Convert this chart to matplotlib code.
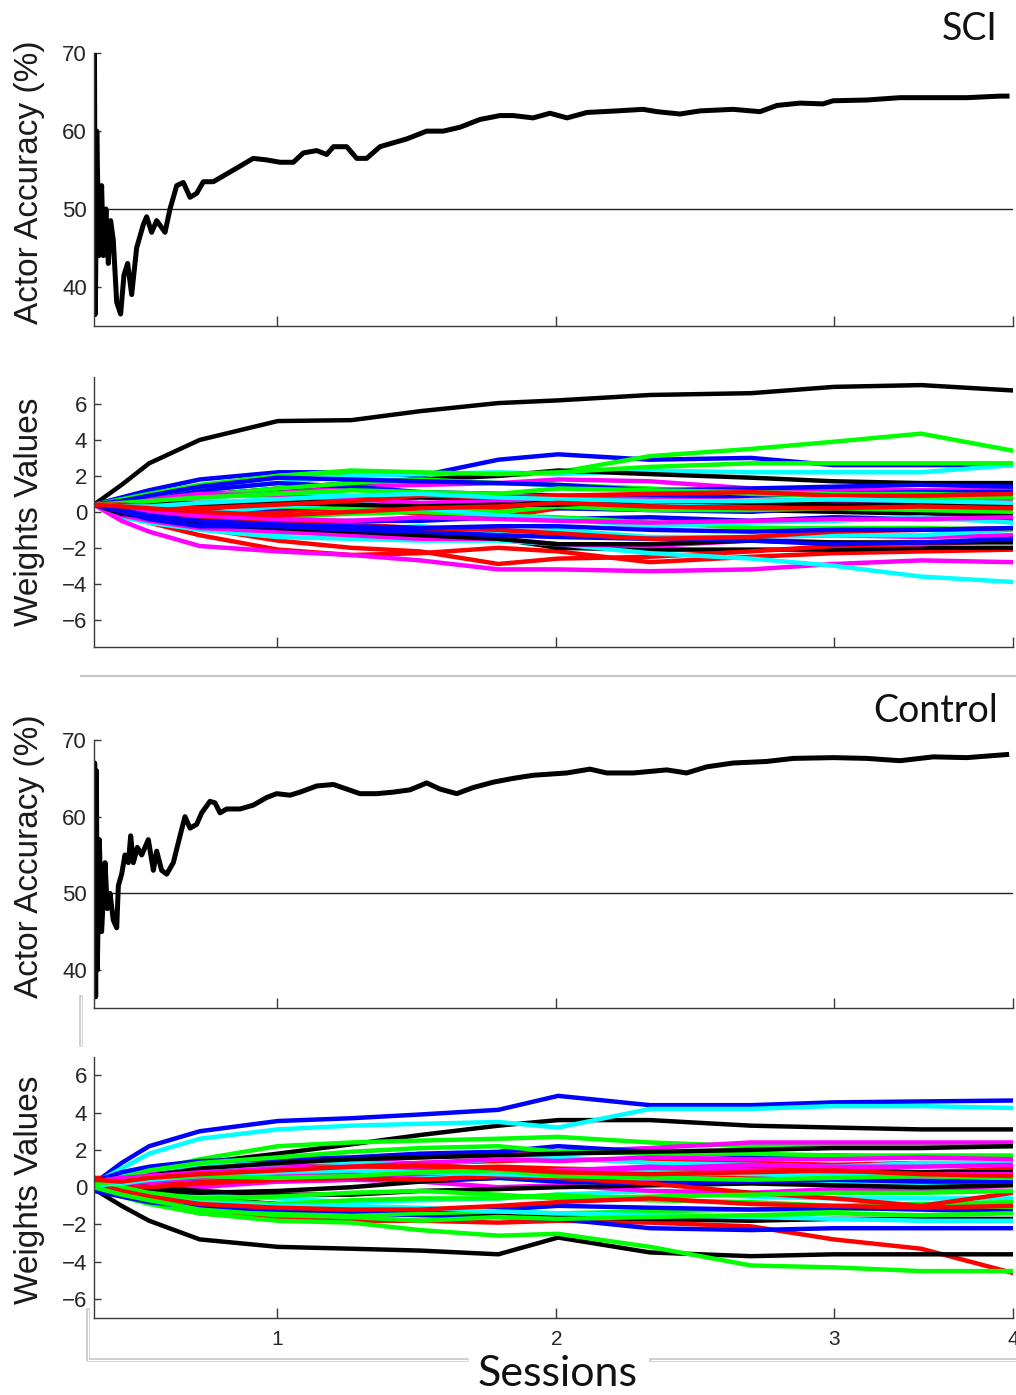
import matplotlib.pyplot as plt
from matplotlib.lines import Line2D

# x axis is trial number; session boundaries are marked with ticks
session_ends = [199, 503, 805, 1000]
session_labels = ['1', '2', '3', '4']

# actor accuracy (%) over trials
sci_acc_t = [0, 0.5, 1.5, 3, 5.4, 8.3, 10.2, 13, 15.6, 18.1, 21, 24.7, 29, 32.6, 36.6, 41,
             46.4, 53.7, 57.3, 62.7, 68.2, 77.3, 82.7, 90, 97.2, 104.5, 111.7, 119, 129.8,
             144.4, 158.9, 173.3, 187.9, 202.4, 216.9, 227.8, 242.3, 253.2, 260.5, 275,
             285.9, 296.7, 311.2, 325.7, 340.3, 362, 380, 398.3, 420, 441.8, 456.3, 477.7,
             496.2, 514.7, 536.5, 569.1, 597.4, 612.6, 637.6, 659.4, 695.3, 724.7, 743.2,
             768.2, 793.3, 804.1, 841.1, 877, 913, 950, 985.9, 993.5]
sci_acc = [36.5, 70, 36.5, 60, 44, 53, 44, 50, 43, 48.5, 46, 38, 36.5, 41.5, 43, 39,
           45, 48, 49, 47, 48.5, 47, 50, 53, 53.4, 51.5, 52, 53.5, 53.5,
           54.5, 55.5, 56.5, 56.3, 56, 56, 57.2, 57.5, 57, 58, 58,
           56.5, 56.5, 58, 58.5, 59, 60, 60, 60.5, 61.5, 62, 62, 61.7,
           62.3, 61.7, 62.4, 62.6, 62.8, 62.5, 62.2, 62.6, 62.8, 62.5, 63.3,
           63.6, 63.5, 63.9, 64, 64.3, 64.3, 64.3, 64.5, 64.5]

ctl_acc_t = [0, 0.7, 1.8, 2.6, 3.6, 5.8, 8.3, 12, 14.5, 17.4, 21, 24.7, 26.5, 30.1, 33.7,
             37.4, 39.9, 42.8, 47.2, 51.9, 59.1, 64.6, 68.2, 73.6, 79.1, 86.3, 93.6, 99,
             104.5, 111.7, 117.2, 126.2, 131.7, 137.1, 144.4, 158.9, 173.3, 187.9, 198.8,
             213.3, 224.2, 242.3, 260.5, 275, 289.4, 307.6, 325.7, 343.9, 362, 376.5,
             394.7, 412.7, 434.5, 456.3, 478, 514.4, 539.7, 557.9, 586.8, 623.2, 644.9,
             666.7, 695.6, 732, 760.9, 804.5, 840.8, 877, 913.3, 949.6, 993.1]
ctl_acc = [37, 67, 36.5, 66, 40, 57, 45, 54, 48, 50, 46.5, 45.5, 51, 52.5, 55,
           54, 57.5, 54, 56, 55, 57, 53, 55.5, 53, 52.5, 54, 57.5, 60,
           58.5, 59, 60.5, 62, 61.8, 60.5, 61, 61, 61.5, 62.5, 63,
           62.8, 63.2, 64, 64.2, 63.6, 63, 63, 63.2, 63.5, 64.4, 63.6,
           63, 63.8, 64.5, 65.0, 65.4, 65.7, 66.2, 65.7, 65.7, 66.1, 65.7,
           66.5, 67, 67.2, 67.6, 67.7, 67.6, 67.3, 67.8, 67.7, 68.1]

# actor weights, sampled at these trials
trials = [0, 30, 60, 115, 200, 280, 355, 440, 505, 605, 715, 805, 900, 1000]

sci_k = [
    [0.4, 1.5, 2.7, 4.0, 5.05, 5.1, 5.6, 6.05, 6.2, 6.5, 6.6, 6.95, 7.05, 6.75],
    [0.4, 0.5, 0.7, 0.9, 1.3, 1.6, 1.8, 2.0, 2.3, 2.1, 1.9, 1.7, 1.6, 1.6],
    [0.4, 0.5, 0.5, 0.5, 0.6, 0.7, 0.8, 0.7, 0.5, 0.3, 0.1, 0.0, -0.1, -0.1],
    [0.4, 0.0, -0.3, -0.5, -0.7, -0.8, -1.0, -1.5, -2.0, -2.1, -2.1, -2.1, -2.0, -2.0],
    [0.4, -0.1, -0.3, -0.7, -0.9, -1.1, -1.3, -1.5, -1.8, -1.8, -1.6, -1.7, -1.7, -1.7],
    [0.4, 0.3, 0.3, 0.4, 0.5, 0.4, 0.3, 0.4, 0.4, 0.6, 0.5, 0.4, 0.4, 0.3],
]
sci_b = [
    [0.4, 0.8, 1.2, 1.8, 2.2, 2.2, 2.0, 2.9, 3.2, 2.9, 3.0, 2.6, 2.6, 2.6],
    [0.4, 0.6, 0.8, 1.2, 1.6, 1.4, 1.1, 1.0, 0.9, 0.8, 0.9, 1.0, 1.1, 1.1],
    [0.4, 0.3, 0.2, 0.1, 0.2, 0.3, 0.2, 0.4, 0.2, 0.1, 0.0, 0.3, 0.3, 0.3],
    [0.4, 0.0, -0.3, -0.6, -0.6, -0.5, -0.5, -0.3, -0.4, -0.3, -0.5, -0.3, -0.4, -0.4],
    [0.4, 0.0, -0.4, -0.8, -0.8, -1.0, -1.1, -1.3, -1.4, -1.5, -1.6, -1.8, -1.7, -1.5],
    [0.4, 0.6, 0.9, 1.4, 1.9, 1.8, 1.7, 1.6, 1.5, 1.2, 1.3, 1.4, 1.5, 1.4],
    [0.4, 0.1, -0.2, -0.5, -0.7, -0.8, -0.9, -0.8, -0.8, -1.0, -1.1, -1.0, -1.0, -0.9],
]
sci_g = [
    [0.4, 0.7, 1.0, 1.5, 2.0, 2.2, 2.1, 2.0, 2.2, 3.1, 3.5, 3.9, 4.35, 3.4],
    [0.4, 0.6, 0.9, 1.4, 2.0, 2.3, 2.2, 2.1, 2.2, 2.5, 2.7, 2.7, 2.7, 2.7],
    [0.4, 0.5, 0.6, 0.9, 1.3, 1.6, 1.8, 1.6, 1.5, 1.3, 1.0, 0.9, 0.8, 0.8],
    [0.4, 0.1, -0.2, -0.4, -0.3, -0.1, 0.0, -0.2, -0.3, -0.6, -0.9, -0.9, -0.9, -1.0],
    [0.4, 0.3, 0.3, 0.4, 0.3, 0.2, 0.1, 0.0, 0.3, 0.1, 0.1, 0.2, 0.1, 0.0],
    [0.4, 0.5, 0.6, 0.8, 1.0, 1.2, 1.1, 1.0, 1.3, 1.2, 1.1, 1.0, 1.0, 0.9],
]
sci_r = [
    [0.4, 0.2, 0.0, -0.3, 0.0, 0.3, 0.3, 0.1, 0.6, 0.7, 0.6, 0.7, 0.6, 0.6],
    [0.4, 0.1, -0.1, -0.2, 0.1, 0.2, -0.1, -0.3, 0.2, 0.4, 0.3, 0.1, 0.0, -0.2],
    [0.4, -0.2, -0.6, -1.3, -2.1, -2.4, -2.3, -2.0, -2.2, -2.8, -2.5, -2.3, -2.2, -2.1],
    [0.4, -0.1, -0.4, -0.9, -1.6, -2.0, -2.2, -2.9, -2.6, -2.5, -2.2, -1.9, -1.8, -1.6],
    [0.4, 0.1, -0.1, -0.4, -0.6, -0.7, -0.9, -1.0, -1.2, -1.5, -1.4, -1.1, -1.0, -0.9],
    [0.4, 0.4, 0.3, 0.2, 0.4, 0.6, 0.9, 0.8, 0.9, 1.0, 1.1, 0.9, 0.9, 1.0],
    [0.4, 0.3, 0.2, 0.0, -0.2, 0.0, 0.2, 0.3, 0.5, 0.3, 0.2, 0.2, 0.3, 0.2],
]
sci_c = [
    [0.4, 0.5, 0.8, 1.2, 1.6, 2.0, 2.1, 2.2, 2.1, 2.3, 2.2, 2.2, 2.2, 2.6],
    [0.4, 0.5, 0.6, 0.8, 1.0, 0.9, 0.8, 0.9, 0.8, 0.5, 0.5, 0.4, 0.3, 0.2],
    [0.4, -0.3, -0.6, -0.9, -1.2, -1.0, -0.8, -1.2, -1.0, -1.4, -1.4, -1.3, -1.3, -1.0],
    [0.4, -0.2, -0.6, -1.0, -1.4, -1.5, -1.6, -1.6, -1.8, -2.3, -2.6, -3.0, -3.6, -3.9],
    [0.4, 0.2, 0.1, -0.1, 0.3, 0.5, 0.2, -0.2, -0.4, -0.8, -0.6, -0.5, -0.3, -0.6],
    [0.4, 0.3, 0.3, 0.5, 0.7, 0.9, 1.0, 0.8, 0.7, 0.6, 0.6, 0.7, 0.6, 0.5],
]
sci_m = [
    [0.4, 0.6, 0.8, 1.0, 1.2, 1.4, 1.5, 1.6, 1.8, 1.7, 1.3, 1.2, 1.2, 1.2],
    [0.4, 0.0, -0.4, -0.8, -0.9, -1.0, -1.1, -1.2, -1.0, -1.5, -1.4, -1.3, -1.4, -1.3],
    [0.4, -0.5, -1.1, -1.9, -2.2, -2.4, -2.7, -3.2, -3.2, -3.3, -3.2, -2.9, -2.7, -2.8],
    [0.4, -0.2, -0.5, -0.9, -1.1, -1.3, -1.5, -1.5, -1.8, -1.9, -1.6, -1.7, -1.8, -1.5],
    [0.4, 0.5, 0.7, 1.0, 0.9, 0.7, 0.5, 0.6, 0.8, 0.7, 0.6, 0.6, 0.5, 0.5],
    [0.4, 0.2, 0.0, -0.2, -0.4, -0.5, -0.3, -0.4, -0.5, -0.6, -0.5, -0.4, -0.4, -0.3],
]

ctl_k = [
    [0.1, 0.4, 0.8, 1.3, 1.8, 2.3, 2.8, 3.3, 3.6, 3.6, 3.3, 3.2, 3.1, 3.1],
    [-0.1, -1.0, -1.8, -2.8, -3.2, -3.3, -3.4, -3.6, -2.7, -3.5, -3.7, -3.6, -3.6, -3.6],
    [0.0, -0.2, -0.4, -0.6, -0.9, -1.1, -1.3, -1.4, -1.6, -1.7, -1.8, -1.7, -1.7, -1.7],
    [0.0, -0.1, -0.2, -0.3, -0.2, 0.0, 0.3, 0.5, 0.6, 0.6, 0.8, 0.8, 0.8, 0.8],
    [0.0, 0.1, 0.0, -0.2, -0.4, -0.4, -0.2, -0.1, 0.0, 0.1, 0.2, 0.1, 0.0, 0.1],
    [0.1, 0.3, 0.6, 1.0, 1.3, 1.5, 1.6, 1.7, 1.8, 1.9, 2.0, 2.1, 2.1, 2.2],
]
ctl_b = [
    [0.2, 1.3, 2.2, 3.0, 3.55, 3.7, 3.9, 4.15, 4.9, 4.4, 4.4, 4.55, 4.6, 4.65],
    [0.0, -0.4, -0.8, -1.1, -1.3, -1.4, -1.5, -1.6, -1.7, -2.2, -2.3, -2.2, -2.2, -2.2],
    [0.3, 0.8, 1.1, 1.4, 1.5, 1.6, 1.8, 1.9, 2.2, 1.9, 1.7, 1.7, 1.6, 1.6],
    [-0.2, -0.5, -0.8, -1.1, -1.2, -1.3, -1.2, -1.2, -1.0, -1.1, -1.2, -1.1, -1.2, -1.3],
    [0.1, 0.2, 0.3, 0.5, 0.6, 0.5, 0.4, 0.5, 0.3, 0.2, 0.3, 0.4, 0.3, 0.3],
]
ctl_g = [
    [0.1, 0.5, 0.9, 1.5, 2.2, 2.4, 2.5, 2.6, 2.7, 2.4, 2.2, 2.2, 2.2, 2.2],
    [0.0, -0.5, -0.9, -1.4, -1.8, -1.9, -2.3, -2.6, -2.5, -3.2, -4.2, -4.3, -4.5, -4.5],
    [0.0, -0.3, -0.6, -1.0, -1.3, -1.5, -1.4, -1.3, -1.4, -1.3, -1.2, -1.2, -1.1, -1.2],
    [0.1, -0.2, -0.4, -0.7, -0.9, -0.7, -0.6, -0.6, -0.4, -0.7, -0.8, -1.0, -0.9, -0.8],
    [0.2, 0.5, 0.9, 1.3, 1.6, 1.9, 2.1, 2.2, 1.9, 1.8, 1.8, 1.7, 1.7, 1.7],
    [0.1, 0.0, -0.3, -0.6, -0.5, -0.3, -0.2, -0.4, -0.6, -0.5, -0.4, -0.3, -0.3, -0.2],
    [0.2, 0.3, 0.5, 0.6, 0.5, 0.6, 0.8, 0.9, 0.6, 0.5, 0.4, 0.5, 0.6, 0.5],
    [0.0, -0.4, -0.7, -1.2, -1.5, -1.6, -1.8, -1.6, -1.7, -1.6, -1.5, -1.4, -1.5, -1.4],
]
ctl_r = [
    [0.3, -0.3, -0.8, -1.4, -1.7, -1.8, -1.8, -1.9, -1.8, -1.9, -2.1, -2.8, -3.3, -4.6],
    [0.5, 0.5, 0.6, 0.8, 1.0, 1.2, 1.3, 1.4, 1.5, 1.4, 1.3, 1.2, 1.3, 1.3],
    [0.3, 0.3, 0.4, 0.6, 0.8, 0.9, 1.0, 1.1, 1.0, 0.9, 1.0, 1.0, 0.8, 1.0],
    [0.4, 0.2, 0.3, 0.3, 0.4, 0.6, 0.8, 0.7, 0.8, 0.6, 0.5, 0.4, 0.3, 0.3],
    [0.2, 0.1, 0.0, 0.2, 0.4, 0.5, 0.4, 0.6, 0.5, 0.2, -0.3, -0.6, -1.0, -0.3],
    [0.2, -0.2, -0.5, -0.9, -1.1, -1.2, -1.2, -1.0, -0.8, -0.6, -0.9, -1.0, -1.1, -1.0],
    [0.4, 0.3, 0.5, 0.7, 0.9, 1.1, 1.2, 1.0, 0.8, 0.7, 0.8, 0.9, 0.7, 0.6],
]
ctl_c = [
    [0.2, 1.0, 1.8, 2.6, 3.1, 3.3, 3.4, 3.5, 3.2, 4.2, 4.2, 4.35, 4.35, 4.25],
    [0.3, 0.6, 0.9, 1.2, 1.4, 1.3, 1.2, 1.5, 1.6, 1.3, 1.2, 1.1, 1.3, 1.3],
    [0.0, -0.3, -0.5, -0.4, -0.6, -0.8, -0.7, -0.6, -0.4, -0.2, -0.5, -0.6, -0.6, -0.6],
    [0.2, 0.4, 0.6, 0.9, 1.0, 0.8, 0.6, 0.5, 0.3, 0.5, 0.4, 0.2, 0.1, 0.2],
    [0.0, -0.3, -0.5, -0.8, -1.0, -1.0, -1.1, -1.3, -1.4, -1.5, -1.6, -1.7, -1.8, -1.8],
    [0.1, 0.2, 0.4, 0.6, 0.8, 0.9, 0.8, 0.7, 0.6, 0.8, 0.7, 0.6, 0.6, 0.5],
]
ctl_m = [
    [0.2, 0.4, 0.6, 0.9, 1.2, 1.4, 1.6, 1.8, 1.9, 2.1, 2.4, 2.4, 2.4, 2.4],
    [0.0, 0.0, 0.1, 0.2, 0.3, 0.4, 0.6, 0.7, 0.5, 0.3, 0.4, 0.4, 0.4, 0.4],
    [0.0, 0.0, -0.1, 0.0, 0.3, 0.4, 0.3, 0.0, 0.1, -0.2, -0.3, -0.1, -0.1, -0.2],
    [0.3, 0.5, 0.7, 0.8, 0.6, 0.5, 0.7, 0.9, 0.8, 1.0, 1.2, 1.1, 1.1, 1.2],
    [0.2, 0.2, 0.3, 0.5, 0.6, 0.8, 0.9, 0.7, 0.9, 1.1, 0.9, 0.8, 0.7, 0.7],
    [0.3, 0.5, 0.6, 0.8, 1.0, 1.1, 1.3, 1.5, 1.4, 1.6, 1.5, 1.5, 1.6, 1.5],
]

cols = {'k': '#000000', 'b': '#0000ff', 'g': '#00ff00', 'r': '#ff0000', 'c': '#00ffff', 'm': '#ff00ff'}
axcol = '#3a3a3a'
tickfont = 'Liberation Sans'
titlefont = 'Lato'

fig = plt.figure(figsize=(10.16, 13.95), dpi=100)
W, H = 1016.0, 1395.0


def make_axes(top, bottom, left=94, right=1013):
    return fig.add_axes([left / W, 1 - bottom / H, (right - left) / W, (bottom - top) / H])


def style(ax, ylim, yticks, label, label_y, show_x=False):
    ax.set_xlim(0, 1000)
    ax.set_ylim(*ylim)
    ax.set_yticks(yticks)
    ax.set_xticks(session_ends)
    ax.set_xticklabels(session_labels if show_x else [])
    for s in ['top', 'right']:
        ax.spines[s].set_visible(False)
    for s in ['left', 'bottom']:
        ax.spines[s].set_color(axcol)
        ax.spines[s].set_linewidth(1.0)
    ax.tick_params(axis='y', direction='in', length=5, width=1, colors=axcol,
                   labelsize=16, pad=5, labelcolor='#262626')
    ax.tick_params(axis='x', direction='in', length=7, width=1, colors=axcol,
                   labelsize=15, pad=9, labelcolor='#262626')
    for t in ax.get_yticklabels() + ax.get_xticklabels():
        t.set_fontfamily(tickfont)
    ax.set_ylabel(label, fontsize=24, family=tickfont, color='#1a1a1a')
    ax.yaxis.set_label_coords(-0.053, label_y)


def draw_weights(ax, groups):
    n = max(len(g) for _, g in groups)
    for i in range(n):
        for c, g in groups:
            if i < len(g):
                ax.plot(trials, g[i], color=cols[c], lw=3.2, solid_joinstyle='round')


# SCI accuracy
ax1 = make_axes(53.3, 325.7)
ax1.axhline(50, color='#222222', lw=1.0)
ax1.plot(sci_acc_t, sci_acc, color='k', lw=3.6, solid_joinstyle='round')
style(ax1, (35, 70), [40, 50, 60, 70], 'Actor Accuracy (%)', 0.526)

# SCI weights
ax2 = make_axes(377, 646.7)
draw_weights(ax2, [('k', sci_k), ('b', sci_b), ('g', sci_g), ('r', sci_r), ('c', sci_c), ('m', sci_m)])
style(ax2, (-7.5, 7.5), [-6, -4, -2, 0, 2, 4, 6], 'Weights Values', 0.5)

# Control accuracy
ax3 = make_axes(740, 1008.3)
ax3.axhline(50, color='#222222', lw=1.0)
ax3.plot(ctl_acc_t, ctl_acc, color='k', lw=3.6, solid_joinstyle='round')
style(ax3, (35, 70), [40, 50, 60, 70], 'Actor Accuracy (%)', 0.568)

# Control weights
ax4 = make_axes(1056.7, 1317.7)
draw_weights(ax4, [('k', ctl_k), ('b', ctl_b), ('g', ctl_g), ('r', ctl_r), ('c', ctl_c), ('m', ctl_m)])
style(ax4, (-7, 7), [-6, -4, -2, 0, 2, 4, 6], 'Weights Values', 0.489, show_x=True)

# group titles and shared x label
fig.text(998 / W, 1 - 40 / H, 'SCI', ha='right', va='baseline', fontsize=27,
         family=titlefont, color='#111111')
fig.text(998 / W, 1 - 722 / H, 'Control', ha='right', va='baseline', fontsize=27,
         family=titlefont, color='#111111')
fig.text(558 / W, 1 - 1386 / H, 'Sessions', ha='center', va='baseline', fontsize=31,
         family=titlefont, color='#111111')


def fig_line(xs, ys, double=False, **kw):
    xs = [x / W for x in xs]
    ys = [1 - y / H for y in ys]
    if double:
        fig.add_artist(Line2D(xs, ys, color='#c8c8c8', lw=2.6, transform=fig.transFigure))
        fig.add_artist(Line2D(xs, ys, color='white', lw=0.9, transform=fig.transFigure))
    else:
        fig.add_artist(Line2D(xs, ys, transform=fig.transFigure, **kw))


# divider between the two groups and the bracket under the bottom axis
fig_line([81, 1016], [676, 676], color='#c8c8c8', lw=1.6)
fig_line([81, 81], [997, 1045], double=True)
fig_line([88, 88, 467], [1310, 1360, 1360], double=True)
fig_line([651, 1016], [1360, 1360], double=True)

fig.savefig('out.png', dpi=100)
